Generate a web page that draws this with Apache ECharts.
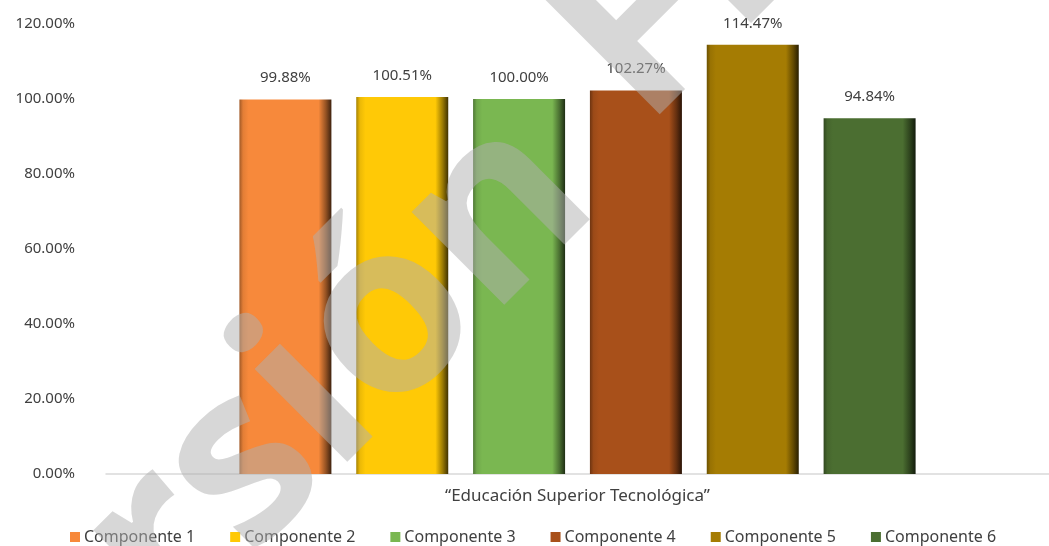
<!DOCTYPE html>
<html>
<head>
<meta charset="utf-8">
<script src="https://cdn.jsdelivr.net/npm/echarts@6/dist/echarts.min.js"></script>
<style>
html,body{margin:0;padding:0;background:#fff;}
#chart{width:1049px;height:546px;}
</style>
</head>
<body>
<div id="chart"></div>
<script>
const categories = ['\u201CEducación Superior Tecnológica\u201D'];
const seriesNames = ['Componente 1','Componente 2','Componente 3','Componente 4','Componente 5','Componente 6'];
const values = [99.88, 100.51, 100.00, 102.27, 114.47, 94.84];
const yMin = 0, yMax = 120, yStep = 20;

const palette = ['#F7893B','#FFC906','#7AB751','#A8501A','#A57C03','#4B6E31'];

function shade(hex, f) {
  const n = parseInt(hex.slice(1), 16);
  let r = (n >> 16) & 255, g = (n >> 8) & 255, b = n & 255;
  if (f < 0) { r = r * (1 + f); g = g * (1 + f); b = b * (1 + f); }
  else { r = r + (255 - r) * f; g = g + (255 - g) * f; b = b + (255 - b) * f; }
  return 'rgb(' + Math.round(r) + ',' + Math.round(g) + ',' + Math.round(b) + ')';
}
function barFill(c) {
  return {
    type: 'linear', x: 0, y: 0, x2: 1, y2: 0,
    colorStops: [
      { offset: 0, color: shade(c, -0.35) },
      { offset: 0.04, color: shade(c, -0.08) },
      { offset: 0.1, color: c },
      { offset: 0.86, color: c },
      { offset: 0.94, color: shade(c, -0.4) },
      { offset: 1, color: shade(c, -0.75) }
    ]
  };
}

const chart = echarts.init(document.getElementById('chart'), null, { renderer: 'canvas' });

const series = seriesNames.map((name, i) => ({
  name: name,
  type: 'bar',
  data: [values[i]],
  barWidth: 92,
  barGap: '27%',
  itemStyle: { color: barFill(palette[i]) },
  label: {
    show: true,
    position: 'top',
    distance: 14,
    formatter: p => p.value.toFixed(2) + '%',
    color: '#404040',
    fontSize: 15,
    fontFamily: 'Noto Sans'
  }
}));

const wmFill = 'rgba(175,175,175,0.5)';
const rot = Math.PI / 4;

chart.setOption({
  animation: false,
  color: palette,
  grid: { left: 106, right: 0, top: 24, bottom: 72 },
  xAxis: {
    type: 'category',
    data: categories,
    axisLine: { lineStyle: { color: '#d9d9d9', width: 1.5 } },
    axisTick: { show: false },
    axisLabel: { color: '#404040', fontSize: 17, fontFamily: 'Noto Sans', margin: 14 }
  },
  yAxis: {
    type: 'value',
    min: yMin, max: yMax, interval: yStep,
    axisLine: { show: false },
    axisTick: { show: false },
    splitLine: { show: false },
    axisLabel: {
      color: '#404040', fontSize: 15, fontFamily: 'Noto Sans', margin: 31,
      formatter: v => v.toFixed(2) + '%'
    }
  },
  legend: {
    bottom: -4,
    left: 65,
    icon: 'rect',
    itemWidth: 10,
    itemHeight: 10,
    itemGap: 35,
    textStyle: { color: '#404040', fontSize: 16, fontFamily: 'Noto Sans', padding: [0, 0, 0, -1] },
    data: seriesNames.map((n, i) => ({ name: n, itemStyle: { color: palette[i] } }))
  },
  graphic: [
    {
      type: 'text', z: 100, x: 639, y: 243, rotation: rot, silent: true,
      style: { text: 'Versión', fontSize: 240, fontWeight: 'bold', fontFamily: 'Open Sans', fill: wmFill, align: 'right', verticalAlign: 'bottom' }
    },
    {
      type: 'text', z: 100, x: 681, y: 166, rotation: rot, silent: true,
      style: { text: 'Final', fontSize: 240, fontWeight: 'bold', fontFamily: 'Open Sans', fill: wmFill, align: 'left', verticalAlign: 'bottom' }
    }
  ],
  series: series
});
</script>
</body>
</html>
